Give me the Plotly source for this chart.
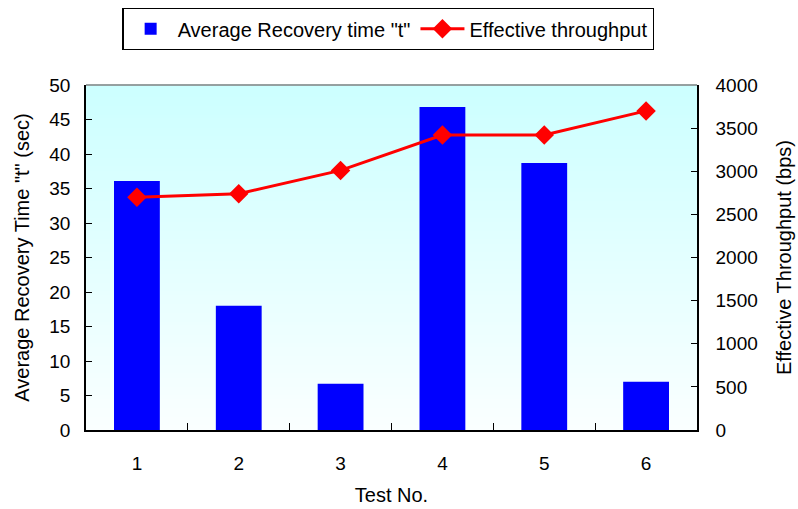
import plotly.graph_objects as go

# Test results
tests = ["1", "2", "3", "4", "5", "6"]
recovery_time = [36.1, 18.0, 6.7, 46.8, 38.7, 7.0]       # seconds
throughput = [2700, 2740, 3010, 3420, 3420, 3700]        # bps

FONT = "Arial, Liberation Sans, sans-serif"
TICK_FONT = dict(family=FONT, size=19, color="black")
TITLE_FONT = dict(family=FONT, size=20, color="black")

fig = go.Figure()

fig.add_trace(go.Bar(
    x=tests, y=recovery_time,
    name='Average Recovery time "t"',
    marker=dict(color="#0000FF", line=dict(width=0)),
    yaxis="y",
))

fig.add_trace(go.Scatter(
    x=tests, y=throughput,
    name="Effective throughput",
    mode="lines+markers",
    line=dict(color="#FF0000", width=3),
    marker=dict(symbol="diamond", size=15, color="#FF0000"),
    yaxis="y2",
))

# Vertical gradient fill of the plot area (light cyan to white)
n = 80
top = (204, 255, 255)
bot = (250, 255, 255)
shapes = []
for i in range(n):
    t = i / (n - 1)
    r = round(top[0] + (bot[0] - top[0]) * t)
    g = round(top[1] + (bot[1] - top[1]) * t)
    b = round(top[2] + (bot[2] - top[2]) * t)
    shapes.append(dict(
        type="rect", xref="paper", yref="paper",
        x0=0, x1=1, y0=1 - (i + 1) / n, y1=1 - i / n + 0.002,
        fillcolor=f"rgb({r},{g},{b})", line=dict(width=0), layer="below",
    ))
# top border of the plot area
shapes.append(dict(type="line", xref="paper", yref="paper",
                   x0=0, x1=1, y0=1, y1=1,
                   line=dict(color="#808080", width=1.5)))

fig.update_layout(
    width=798, height=509,
    margin=dict(l=86, r=101, t=85, b=79, autoexpand=False),
    paper_bgcolor="white",
    plot_bgcolor="white",
    bargap=0.55,
    font=TICK_FONT,
    shapes=shapes,
    showlegend=True,
    legend=dict(
        orientation="h",
        x=0.495, xanchor="center",
        y=1.223, yanchor="top",
        bordercolor="black", borderwidth=1.2,
        bgcolor="white",
        font=dict(family=FONT, size=20, color="black"),
        itemwidth=44,
    ),
    xaxis=dict(
        type="category",
        title=dict(text="Test No.", font=TITLE_FONT, standoff=15),
        tickson="boundaries",
        ticks="inside", ticklen=7, tickcolor="black",
        showline=True, linecolor="black", linewidth=1.5,
        showgrid=False, zeroline=False,
        ticklabelstandoff=15,
        tickfont=TICK_FONT,
        automargin=False,
    ),
    yaxis=dict(
        title=dict(text='Average Recovery Time "t" (sec)', font=TITLE_FONT, standoff=14),
        range=[0, 50], dtick=5,
        ticks="inside", ticklen=6, tickcolor="black",
        showline=True, linecolor="black", linewidth=1.5,
        showgrid=False, zeroline=False,
        ticklabelstandoff=10,
        tickfont=TICK_FONT,
        automargin=False,
    ),
    yaxis2=dict(
        title=dict(text="Effective Throughput (bps)", font=TITLE_FONT, standoff=20),
        range=[0, 4000], dtick=500,
        overlaying="y", side="right",
        ticks="inside", ticklen=6, tickcolor="black",
        showline=True, linecolor="black", linewidth=1.5,
        showgrid=False, zeroline=False,
        ticklabelstandoff=13,
        tickfont=TICK_FONT,
        automargin=False,
    ),
)

fig.write_html("out.html")
